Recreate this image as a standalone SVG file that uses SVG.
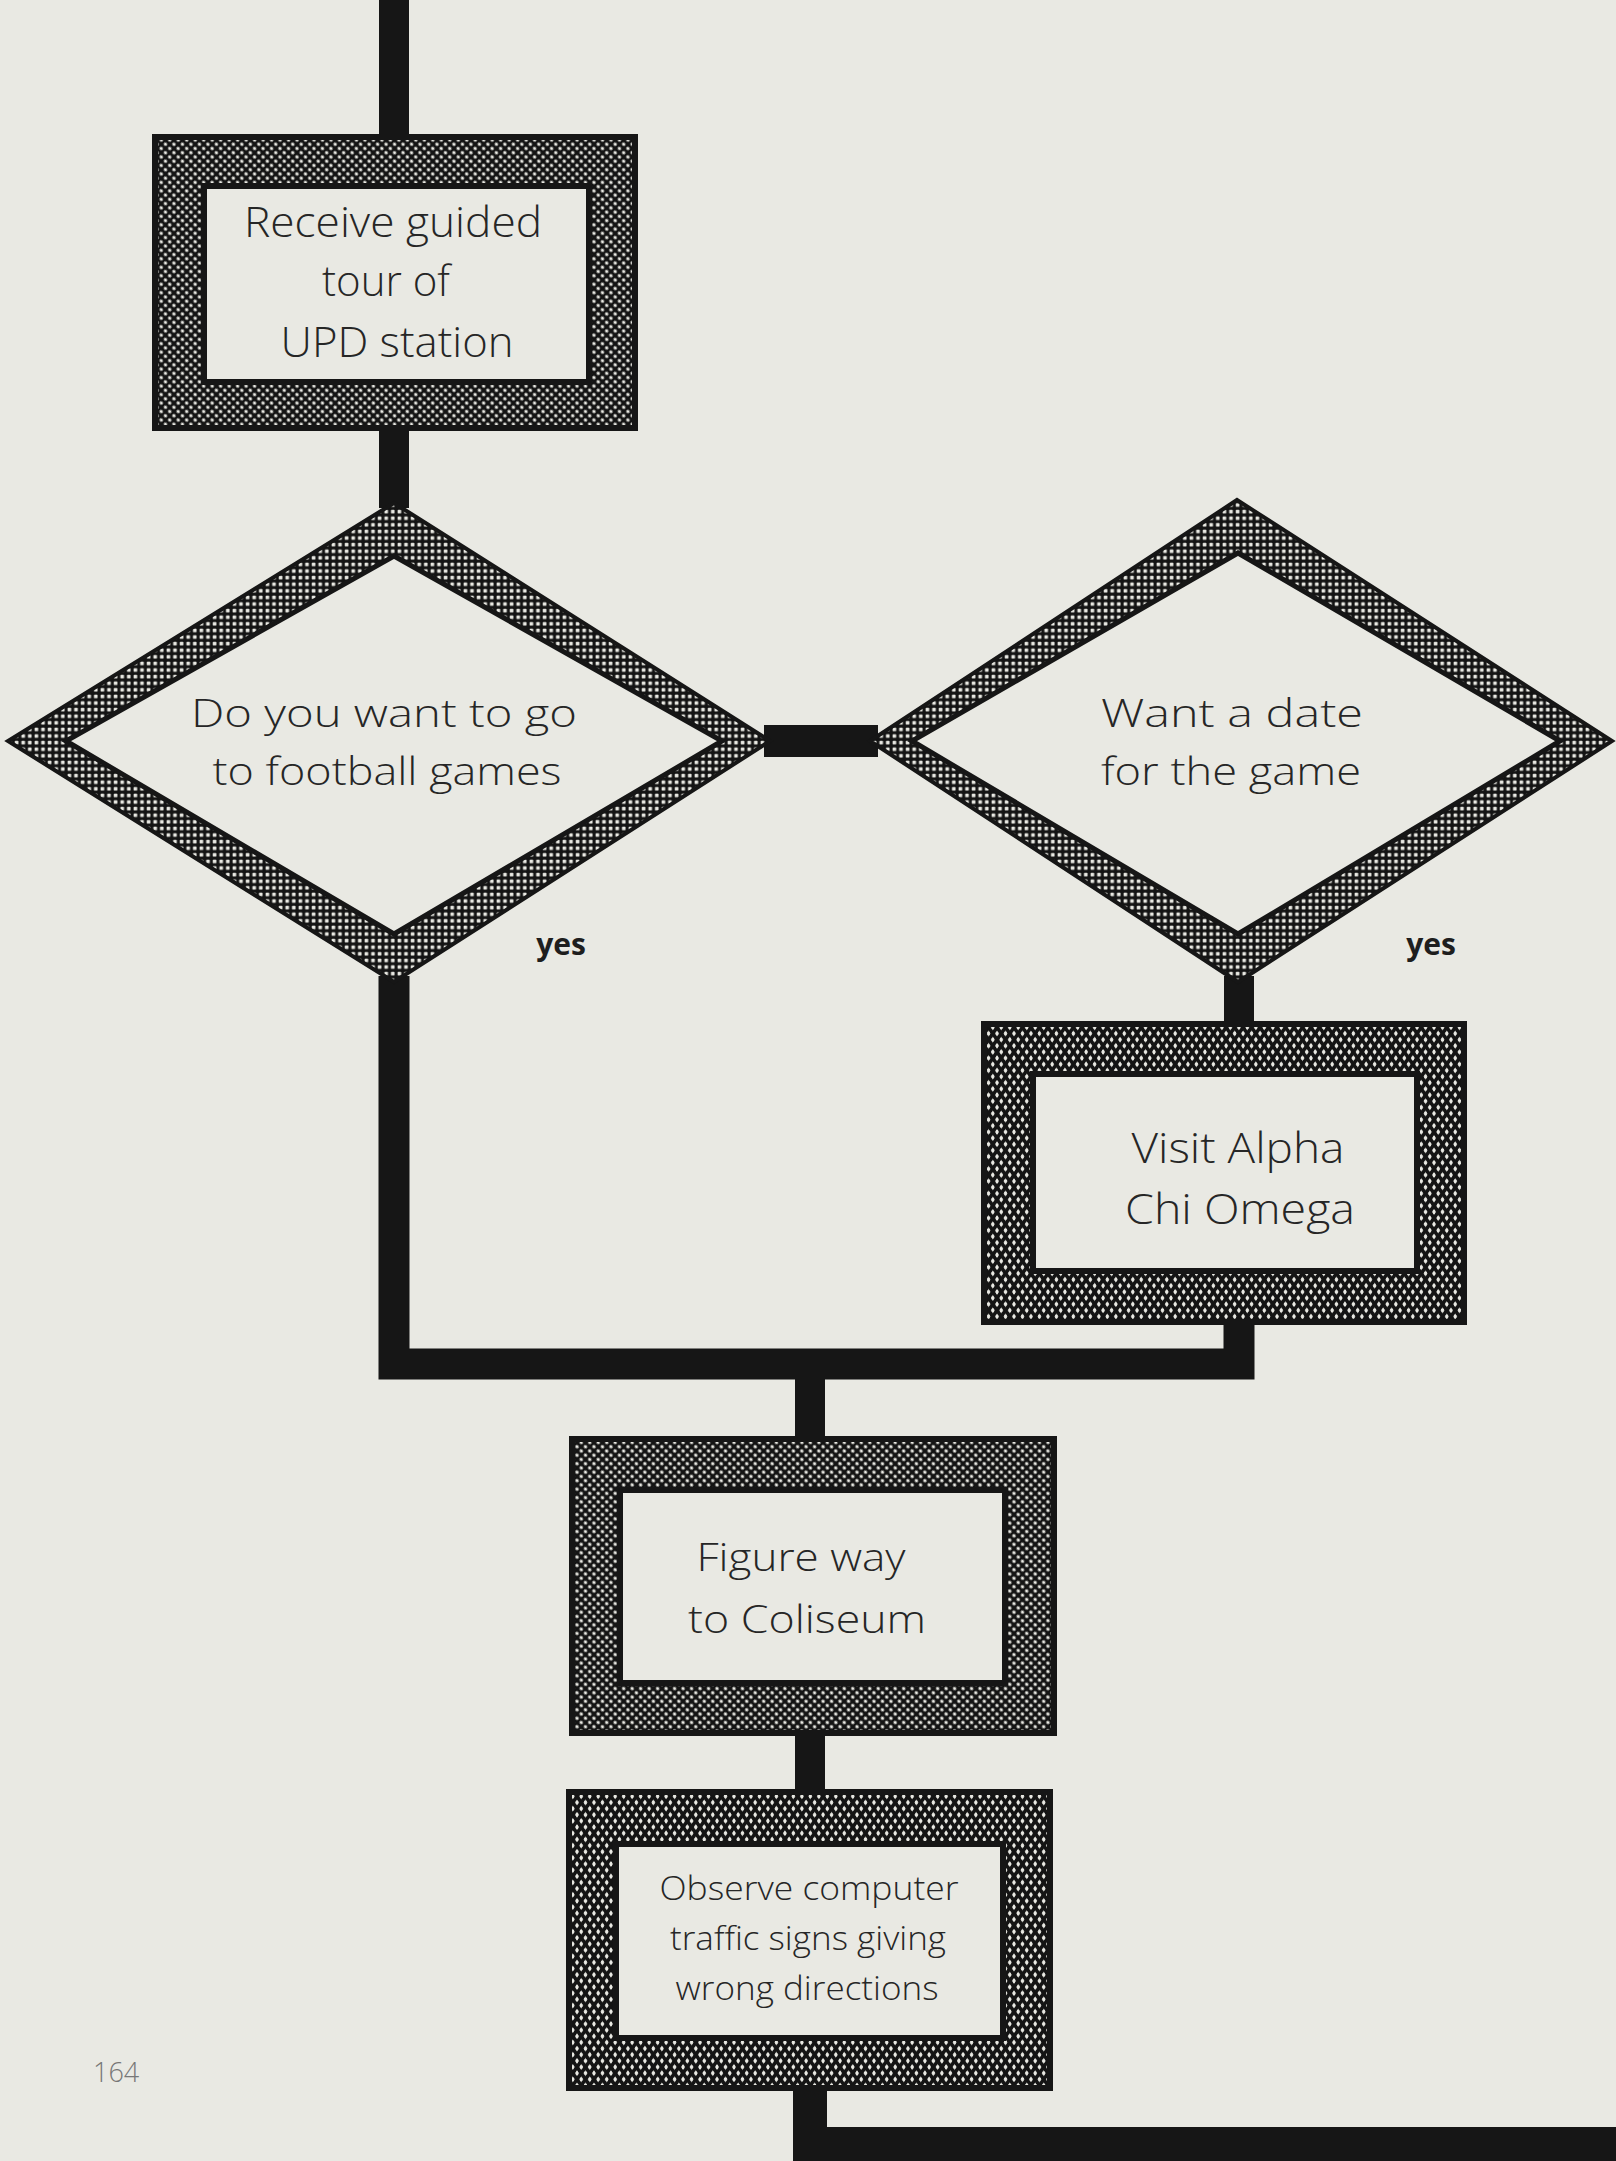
<svg xmlns="http://www.w3.org/2000/svg" width="1616" height="2161" viewBox="0 0 1616 2161">
<defs>
<pattern id="mesh" width="6" height="6" patternUnits="userSpaceOnUse" patternTransform="rotate(45)">
<rect width="6" height="6" fill="#141414"/>
<rect x="1.4" y="1.4" width="3.2" height="3.2" rx="1.1" fill="#e9e9e3"/>
</pattern>
<pattern id="meshV" width="6" height="6" patternUnits="userSpaceOnUse" patternTransform="scale(1,1.45) rotate(45)">
<rect width="6" height="6" fill="#141414"/>
<rect x="1.5" y="1.5" width="3" height="3" rx="1" fill="#e9e9e3"/>
</pattern>
<pattern id="grid" width="6.6" height="6.6" patternUnits="userSpaceOnUse">
<rect width="6.6" height="6.6" fill="#141414"/>
<rect x="1.6" y="1.6" width="3.6" height="3.6" rx="0.8" fill="#e9e9e3"/>
</pattern>
<style>
.bg{fill:#e9e9e3}
.frame{stroke:#161616;stroke-width:6}
.face{fill:#e9e9e3;stroke:#161616;stroke-width:6}
.dframe{stroke:#161616;stroke-width:4;stroke-linejoin:miter}
.dface{fill:#e9e9e3;stroke:#161616;stroke-width:5;stroke-linejoin:miter}
.conn{fill:none;stroke:#161616;stroke-linejoin:miter;stroke-linecap:butt}
.t{font-family:"Open Sans","Liberation Sans",sans-serif;font-weight:300;fill:#262626;text-anchor:middle}
.yes{font-family:"Open Sans","Liberation Sans",sans-serif;font-weight:700;fill:#1e1e1e;text-anchor:middle;font-size:30px}
.pg{font-family:"Open Sans","Liberation Sans",sans-serif;font-weight:300;fill:#777;font-size:27px}
</style>
</defs>
<rect class="bg" x="0" y="0" width="1616" height="2161"/>

<g id="connectors">
<path class="conn" stroke-width="30" d="M394,0 V140"/>
<path class="conn" stroke-width="30" d="M394,426 V508"/>
<path class="conn" stroke-width="32" d="M764,741 H878"/>
<path class="conn" stroke-width="31" d="M394,976 V1364 H1239 V1320"/>
<path class="conn" stroke-width="30" d="M1239,976 V1026"/>
<path class="conn" stroke-width="30" d="M810,1364 V1441"/>
<path class="conn" stroke-width="30" d="M810,1731 V1794"/>
<path class="conn" stroke-width="34" d="M810,2086 V2144 H1616"/>
</g>

<g id="node-receive-tour">
<rect class="frame" fill="url(#mesh)" x="155" y="137" width="480" height="291"/>
<rect class="face" x="204" y="186" width="385" height="196"/>
<text class="t" font-size="42" x="393" y="237" textLength="298" lengthAdjust="spacingAndGlyphs">Receive guided</text>
<text class="t" font-size="42" x="386" y="296">tour of</text>
<text class="t" font-size="42" x="397" y="357" textLength="233" lengthAdjust="spacingAndGlyphs">UPD station</text>
</g>

<g id="node-football">
<polygon class="dframe" fill="url(#grid)" points="394,503 770,741 394,982 8,741"/>
<polygon class="dface" points="394,556 722,741 394,934 66,741"/>
<text class="t" font-size="39" x="384" y="727" textLength="386" lengthAdjust="spacingAndGlyphs">Do you want to go</text>
<text class="t" font-size="39" x="387" y="785" textLength="349" lengthAdjust="spacingAndGlyphs">to football games</text>
</g>

<g id="node-date">
<polygon class="dframe" fill="url(#grid)" points="1237,500 1612,741 1238,982 870,741"/>
<polygon class="dface" points="1238,553 1560,741 1238,934 912,741"/>
<text class="t" font-size="39" x="1232" y="727" textLength="262" lengthAdjust="spacingAndGlyphs">Want a date</text>
<text class="t" font-size="39" x="1231" y="785" textLength="260" lengthAdjust="spacingAndGlyphs">for the game</text>
</g>

<g id="labels">
<text class="yes" x="561" y="955">yes</text>
<text class="yes" x="1431" y="955">yes</text>
</g>

<g id="node-alpha-chi">
<rect class="frame" fill="url(#meshV)" x="984" y="1024" width="480" height="298"/>
<rect class="face" x="1033" y="1074" width="384" height="197"/>
<text class="t" font-size="42" x="1238" y="1163" textLength="213" lengthAdjust="spacingAndGlyphs">Visit Alpha</text>
<text class="t" font-size="42" x="1240" y="1224" textLength="230" lengthAdjust="spacingAndGlyphs">Chi Omega</text>
</g>

<g id="node-coliseum">
<rect class="frame" fill="url(#mesh)" x="572" y="1439" width="482" height="294"/>
<rect class="face" x="620" y="1490" width="385" height="193"/>
<text class="t" font-size="38" x="801" y="1571" textLength="209" lengthAdjust="spacingAndGlyphs">Figure way</text>
<text class="t" font-size="38" x="807" y="1633" textLength="238" lengthAdjust="spacingAndGlyphs">to Coliseum</text>
</g>

<g id="node-traffic-signs">
<rect class="frame" fill="url(#meshV)" x="569" y="1792" width="481" height="296"/>
<rect class="face" x="616" y="1844" width="387" height="194"/>
<text class="t" font-size="33" x="809" y="1900" textLength="299" lengthAdjust="spacingAndGlyphs">Observe computer</text>
<text class="t" font-size="33" x="808" y="1950" textLength="276" lengthAdjust="spacingAndGlyphs">traffic signs giving</text>
<text class="t" font-size="33" x="807" y="2000" textLength="263" lengthAdjust="spacingAndGlyphs">wrong directions</text>
</g>

<text class="pg" x="93" y="2082">164</text>
</svg>
